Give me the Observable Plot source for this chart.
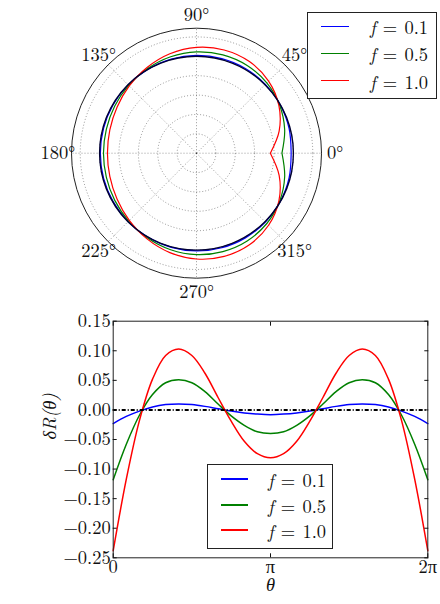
<!DOCTYPE html>
<html><head><meta charset="utf-8">
<script src="https://cdn.jsdelivr.net/npm/d3@7"></script>
<script src="https://cdn.jsdelivr.net/npm/@observablehq/plot@0.6"></script>
<style>
body{margin:0;background:#fff}
#wrap{position:relative;width:440px;height:604px;overflow:hidden;background:#fff}
.legend{position:absolute;background:#fff;border:1px solid #222;box-sizing:border-box}
.sw{position:absolute;height:0}
.lt{position:absolute;line-height:20px;white-space:nowrap;color:#111}
.lt i{font-style:italic}
svg{display:block;overflow:visible}
</style></head><body>
<div id="wrap"><div id="top"></div><div id="bottom"></div></div>
<script>
// ---- data ----
const thetaDeg = [0,15,30,45,60,75,90,105,120,135,150,165,180,195,210,225,240,255,270,285,300,315,330,345,360];
const dR_f01 = [-0.023,-0.011,-0.002,0.005,0.009,0.010,0.009,0.006,0.002,-0.002,-0.005,-0.007,-0.008,-0.007,-0.005,-0.002,0.002,0.006,0.009,0.010,0.009,0.005,-0.002,-0.011,-0.023];
const dR_f05 = [-0.118,-0.058,-0.009,0.026,0.046,0.051,0.046,0.031,0.010,-0.010,-0.026,-0.037,-0.040,-0.037,-0.026,-0.010,0.010,0.031,0.046,0.051,0.046,0.026,-0.009,-0.058,-0.118];
const dR_f10 = [-0.238,-0.117,-0.018,0.052,0.092,0.103,0.092,0.062,0.021,-0.019,-0.053,-0.074,-0.081,-0.074,-0.053,-0.019,0.021,0.062,0.092,0.103,0.092,0.052,-0.018,-0.117,-0.238];
const fLabels = ["0.1","0.5","1.0"];
const seriesColors = ["#0000ff","#008000","#ff0000"];
const angleTicks = [0,45,90,135,180,225,270,315];
const ringTicks = [0.2,0.4,0.6,0.8,1.0,1.2];
const yTicks = [0.15,0.10,0.05,0.00,-0.05,-0.10,-0.15,-0.20,-0.25];
const xTickValues = [0, Math.PI, 2*Math.PI];
const xTickLabels = ["0","π","2π"];
const R0 = 1.0;
const RMAX = 1.29;
const LABEL_R = 1.43;

// ---- font pick ----
const ctx = document.createElement("canvas").getContext("2d");
function has(name) {
  ctx.font = `40px monospace`; const a = ctx.measureText("0.15 f=").width;
  ctx.font = `40px '${name}', monospace`; const b = ctx.measureText("0.15 f=").width;
  return Math.abs(a - b) > 0.5;
}
const LM = has("Latin Modern Roman");
const FAMILY = "'Latin Modern Roman', 'Liberation Serif', serif";
const FSIZE = LM ? 18.5 : 18;

const series = [dR_f01, dR_f05, dR_f10];
const rows = series.flatMap((vals, i) => vals.map((d, j) => ({f: fLabels[i], theta: thetaDeg[j]*Math.PI/180, dR: d})));
const rad = a => a*Math.PI/180;
const font = {fontFamily: FAMILY, fontSize: FSIZE + "px", background: "white", color: "#111", overflow: "visible"};
const gridStyle = {stroke: "#000", strokeOpacity: 0.5, strokeWidth: 0.8, strokeDasharray: "1,2"};

// ---- polar ----
const polar = Plot.plot({
  width: 440, height: 304,
  marginLeft: 71, marginRight: 119, marginTop: 27.7, marginBottom: 26.3,
  x: {domain: [-RMAX, RMAX], axis: null},
  y: {domain: [-RMAX, RMAX], axis: null},
  r: {type: "linear", domain: [0, RMAX], range: [0, 125]},
  color: {domain: fLabels, range: seriesColors},
  style: font,
  marks: [
    Plot.link(angleTicks, {x1: 0, y1: 0, x2: a => RMAX*Math.cos(rad(a)), y2: a => RMAX*Math.sin(rad(a)), ...gridStyle}),
    Plot.dot(ringTicks, {x: 0, y: 0, r: d => d, fill: "none", ...gridStyle}),
    Plot.line(rows, {x: d => (R0 + d.dR)*Math.cos(d.theta), y: d => (R0 + d.dR)*Math.sin(d.theta), z: "f", stroke: "f", strokeWidth: 1.2, curve: "catmull-rom"}),
    Plot.dot([R0], {x: 0, y: 0, r: d => d, fill: "none", stroke: "#000033", strokeWidth: 1.4}),
    Plot.dot([RMAX], {x: 0, y: 0, r: d => d, fill: "none", stroke: "#222", strokeWidth: 1}),
    Plot.text(angleTicks, {x: a => LABEL_R*Math.cos(rad(a)), y: a => LABEL_R*Math.sin(rad(a)), text: a => `${a}°`, fill: "#111"})
  ]
});
document.getElementById("top").append(polar);

// ---- cartesian ----
const fmt = d => (d < 0 ? "−" : "") + Math.abs(d).toFixed(2);
const cart = Plot.plot({
  width: 440, height: 300,
  marginLeft: 112.7, marginRight: 12.7, marginTop: 16.7, marginBottom: 46.7,
  x: {domain: [0, 2*Math.PI], label: null},
  y: {domain: [-0.25, 0.15], label: null},
  color: {domain: fLabels, range: seriesColors},
  style: font,
  marks: [
    Plot.line(rows, {x: "theta", y: "dR", z: "f", stroke: "f", strokeWidth: 1.5, curve: "catmull-rom"}),
    Plot.ruleY([0], {stroke: "#000", strokeWidth: 2, strokeDasharray: "4,2,1,2"}),
    Plot.frame({stroke: "#222"}),
    Plot.axisY(yTicks, {anchor: "left", tickSize: -4, tickPadding: 6.5, tickFormat: fmt, label: null, fill: "#111"}),
    Plot.axisY(yTicks, {anchor: "right", tickSize: -4, tickFormat: () => "", label: null}),
    Plot.axisX(xTickValues, {anchor: "bottom", tickSize: -4, tickPadding: 6.5, tickFormat: d => xTickLabels[xTickValues.indexOf(d)], label: null, fill: "#111"}),
    Plot.axisX(xTickValues, {anchor: "top", tickSize: -4, tickFormat: () => "", label: null}),
    Plot.text(["δR(θ)"], {frameAnchor: "left", dx: -62.7, rotate: -90, fontStyle: "italic", fill: "#111"}),
    Plot.text(["θ"], {frameAnchor: "bottom", dy: 33, fontStyle: "italic", fill: "#111"})
  ]
});
document.getElementById("bottom").append(cart);

// ---- legends ----
function legend(box, rowsY, swX, swW, swH, textX) {
  const el = document.createElement("div");
  el.className = "legend";
  Object.assign(el.style, {left: box[0]+"px", top: box[1]+"px", width: box[2]+"px", height: box[3]+"px"});
  fLabels.forEach((f, i) => {
    const sw = document.createElement("div");
    sw.className = "sw";
    Object.assign(sw.style, {left: swX+"px", top: (rowsY[i]-swH/2-1)+"px", width: swW+"px", borderTop: `${swH}px solid ${seriesColors[i]}`});
    el.append(sw);
    const t = document.createElement("div");
    t.className = "lt";
    Object.assign(t.style, {left: textX+"px", top: (rowsY[i]-11)+"px", fontFamily: FAMILY, fontSize: FSIZE+"px", wordSpacing: (LM ? 1 : 3) + "px"});
    t.innerHTML = `<i>f</i> = ${f}`;
    el.append(t);
  });
  document.getElementById("wrap").append(el);
}
legend([307, 12, 130, 87], [14, 41, 68.5], 13, 28, 1, 62);
legend([207, 464, 126, 85], [15, 40.5, 66], 13, 27, 2, 60);
</script>
</body></html>
